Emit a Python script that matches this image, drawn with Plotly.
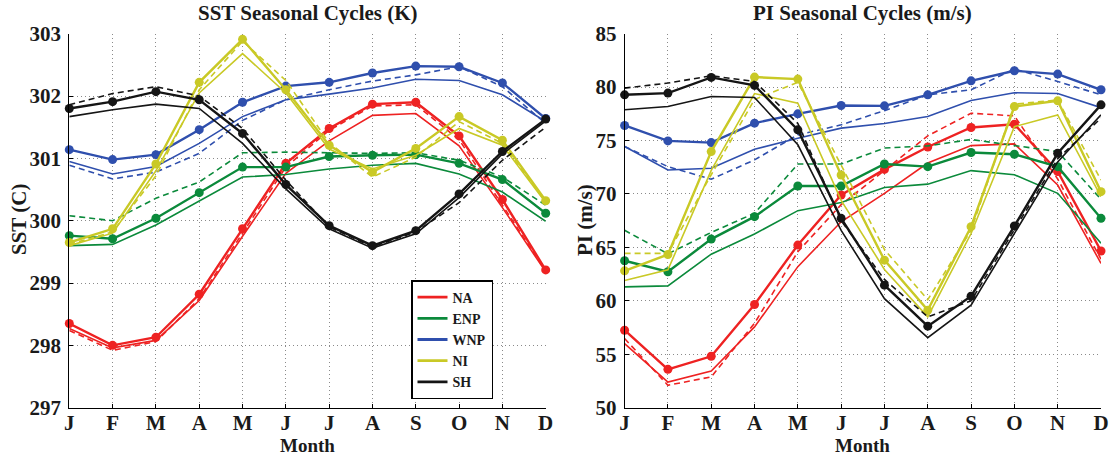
import plotly.graph_objects as go

W, H = 1110, 457

months = ["J", "F", "M", "A", "M", "J", "J", "A", "S", "O", "N", "D"]
regions = ["NA", "ENP", "WNP", "NI", "SH"]
colors = {"NA": "#ee2222", "ENP": "#0b8a3b", "WNP": "#2f4fad", "NI": "#c9c926", "SH": "#151515"}

# ---- SST (K) : observed (markers), model solid, model dashed
sst_obs = {
    "NA":  [298.35, 298.00, 298.13, 298.82, 299.87, 300.92, 301.48, 301.87, 301.90, 301.36, 300.34, 299.21],
    "ENP": [299.76, 299.71, 300.04, 300.45, 300.86, 300.86, 301.03, 301.05, 301.06, 300.92, 300.66, 300.12],
    "WNP": [301.14, 300.98, 301.06, 301.46, 301.90, 302.16, 302.22, 302.37, 302.48, 302.47, 302.21, 301.64],
    "NI":  [299.65, 299.87, 300.91, 302.22, 302.91, 302.10, 301.21, 300.78, 301.16, 301.67, 301.29, 300.32],
    "SH":  [301.80, 301.91, 302.07, 301.94, 301.40, 300.58, 299.92, 299.60, 299.84, 300.43, 301.11, 301.63],
}
sst_solid = {
    "NA":  [298.27, 297.96, 298.08, 298.72, 299.75, 300.76, 301.28, 301.69, 301.72, 301.20, 300.21, 299.18],
    "ENP": [299.60, 299.62, 299.93, 300.32, 300.70, 300.74, 300.83, 300.89, 300.92, 300.75, 300.46, 299.99],
    "WNP": [300.95, 300.75, 300.87, 301.24, 301.67, 301.94, 302.03, 302.13, 302.27, 302.25, 302.02, 301.59],
    "NI":  [299.60, 299.80, 300.80, 302.05, 302.68, 302.05, 301.15, 300.83, 301.05, 301.48, 301.21, 300.29],
    "SH":  [301.67, 301.78, 301.87, 301.80, 301.24, 300.51, 299.87, 299.56, 299.79, 300.37, 301.07, 301.60],
}
sst_dash = {
    "NA":  [298.24, 297.92, 298.06, 298.75, 299.80, 300.86, 301.45, 301.84, 301.86, 301.30, 300.25, 299.19],
    "ENP": [300.08, 300.00, 300.36, 300.62, 301.09, 301.10, 301.09, 301.08, 301.09, 300.97, 300.70, 300.25],
    "WNP": [300.89, 300.67, 300.78, 301.08, 301.61, 301.94, 302.10, 302.24, 302.34, 302.47, 302.15, 301.56],
    "NI":  [299.62, 299.82, 300.72, 302.10, 302.88, 302.25, 301.25, 300.70, 301.02, 301.59, 301.24, 300.30],
    "SH":  [301.86, 302.04, 302.15, 302.00, 301.48, 300.65, 299.90, 299.58, 299.82, 300.29, 300.97, 301.50],
}

# ---- PI (m/s)
pi_obs = {
    "NA":  [57.25, 53.59, 54.81, 59.66, 65.22, 69.90, 72.30, 74.40, 76.22, 76.53, 72.10, 64.66],
    "ENP": [63.75, 62.72, 65.78, 67.88, 70.75, 70.75, 72.81, 72.56, 73.88, 73.72, 72.56, 67.72],
    "WNP": [76.41, 74.97, 74.81, 76.63, 77.50, 78.28, 78.25, 79.28, 80.59, 81.53, 81.22, 79.75],
    "NI":  [62.81, 64.34, 73.97, 80.94, 80.75, 71.78, 63.81, 59.13, 66.94, 78.19, 78.72, 70.22],
    "SH":  [79.28, 79.44, 80.91, 80.16, 76.00, 67.72, 61.47, 57.63, 60.44, 67.00, 73.81, 78.34],
}
pi_solid = {
    "NA":  [56.00, 52.40, 53.44, 57.56, 63.20, 67.40, 70.06, 72.90, 74.53, 74.69, 70.84, 63.50],
    "ENP": [61.31, 61.40, 64.37, 66.25, 68.44, 69.20, 70.60, 70.92, 72.19, 71.80, 70.06, 65.40],
    "WNP": [74.44, 72.25, 72.41, 74.19, 75.22, 76.16, 76.60, 77.25, 78.75, 79.47, 79.40, 78.08],
    "NI":  [61.90, 62.90, 72.20, 79.40, 78.50, 69.40, 62.94, 58.50, 66.30, 76.30, 77.40, 69.75],
    "SH":  [77.88, 78.19, 79.13, 79.03, 74.60, 66.60, 60.20, 56.56, 59.60, 66.30, 73.00, 77.40],
}
pi_dash = {
    "NA":  [56.47, 52.10, 52.88, 57.90, 64.60, 69.00, 72.20, 75.44, 77.56, 77.31, 71.40, 63.90],
    "ENP": [66.60, 64.40, 66.40, 68.20, 72.80, 72.80, 74.30, 74.50, 75.10, 74.55, 73.97, 69.50],
    "WNP": [74.44, 72.56, 71.38, 73.19, 75.53, 76.47, 77.80, 79.28, 79.75, 81.70, 80.53, 79.28],
    "NI":  [64.44, 64.44, 71.80, 78.85, 80.45, 72.70, 64.80, 60.10, 66.60, 78.40, 78.80, 71.30],
    "SH":  [79.91, 80.38, 81.06, 80.53, 76.60, 67.50, 62.00, 58.50, 60.00, 66.60, 73.30, 77.10],
}

x = list(range(len(months)))
FONT = "Liberation Serif, Times New Roman, serif"

fig = go.Figure()

def add_panel(obs, solid, dash, xa, ya):
    for r in regions:
        c = colors[r]
        fig.add_trace(go.Scatter(x=x, y=solid[r], mode="lines", xaxis=xa, yaxis=ya,
                                 line=dict(color=c, width=1.6), showlegend=False))
        fig.add_trace(go.Scatter(x=x, y=dash[r], mode="lines", xaxis=xa, yaxis=ya,
                                 line=dict(color=c, width=1.6, dash="6px,4px"), showlegend=False))
        fig.add_trace(go.Scatter(x=x, y=obs[r], mode="lines+markers", xaxis=xa, yaxis=ya,
                                 line=dict(color=c, width=2.4), marker=dict(color=c, size=9),
                                 cliponaxis=False, showlegend=False))

add_panel(sst_obs, sst_solid, sst_dash, "x", "y")
add_panel(pi_obs, pi_solid, pi_dash, "x2", "y2")

for r in regions:
    fig.add_trace(go.Scatter(x=[None], y=[None], mode="lines", name=r,
                             line=dict(color=colors[r], width=2.8), xaxis="x", yaxis="y"))

def px(v):  # window x pixel -> paper fraction
    return v / W

def py(v):  # window y pixel -> paper fraction
    return 1 - v / H

y0, y1 = py(407.7), py(33.7)
xl = [px(69.3), px(545.7)]
xr = [px(624.6), px(1101.0)]

tickfont = dict(family=FONT, size=21, color="#1a1a1a", weight="bold")
grid = dict(showgrid=True, gridcolor="#8a8a8a", griddash="1px,3px", gridwidth=1)
common_x = dict(range=[0, 11], tickvals=x, ticktext=months, tickfont=tickfont, automargin=False,
                showline=True, linecolor="black", linewidth=1, mirror=False,
                ticks="inside", ticklen=4, tickcolor="black", zeroline=False, ticklabelstandoff=-4, **grid)
common_y = dict(tickfont=tickfont, automargin=False,
                showline=True, linecolor="black", linewidth=1, mirror=False,
                ticks="inside", ticklen=4, tickcolor="black", zeroline=False, ticklabelstandoff=3, **grid)

fig.update_layout(
    width=W, height=H,
    margin=dict(l=0, r=0, t=0, b=0, autoexpand=False),
    paper_bgcolor="white", plot_bgcolor="white",
    xaxis=dict(domain=xl, anchor="y", **common_x),
    yaxis=dict(domain=[y0, y1], anchor="x", range=[297, 303], dtick=1, **common_y),
    xaxis2=dict(domain=xr, anchor="y2", **common_x),
    yaxis2=dict(domain=[y0, y1], anchor="x2", range=[50, 85], dtick=5, **common_y),
    legend=dict(x=px(411), y=py(280), xanchor="left", yanchor="top",
                bgcolor="white", bordercolor="black", borderwidth=1.5,
                font=dict(family=FONT, size=14, color="#1a1a1a", weight="bold"),
                tracegroupgap=0, itemwidth=30),
    showlegend=True,
)

ann_font = dict(family=FONT, size=21, color="#1a1a1a", weight="bold")
anns = [
    dict(text="SST Seasonal Cycles (K)", x=(xl[0] + xl[1]) / 2, y=py(13)),
    dict(text="PI Seasonal Cycles (m/s)", x=(xr[0] + xr[1]) / 2, y=py(13)),
    dict(text="Month", x=(xl[0] + xl[1]) / 2, y=py(445), font_size=19),
    dict(text="Month", x=(xr[0] + xr[1]) / 2, y=py(445), font_size=19),
    dict(text="SST (C)", x=px(19), y=py(220), textangle=-90),
    dict(text="PI (m/s)", x=px(585), y=py(220), textangle=-90),
]
for a in anns:
    fs = a.pop("font_size", 21)
    f = dict(ann_font, size=fs)
    fig.add_annotation(xref="paper", yref="paper", xanchor="center", yanchor="middle",
                       showarrow=False, font=f, **a)

fig.write_html("out.html",
               config={"displayModeBar": False},
               post_script="document.body.style.margin='0';document.body.style.overflow='hidden';")
